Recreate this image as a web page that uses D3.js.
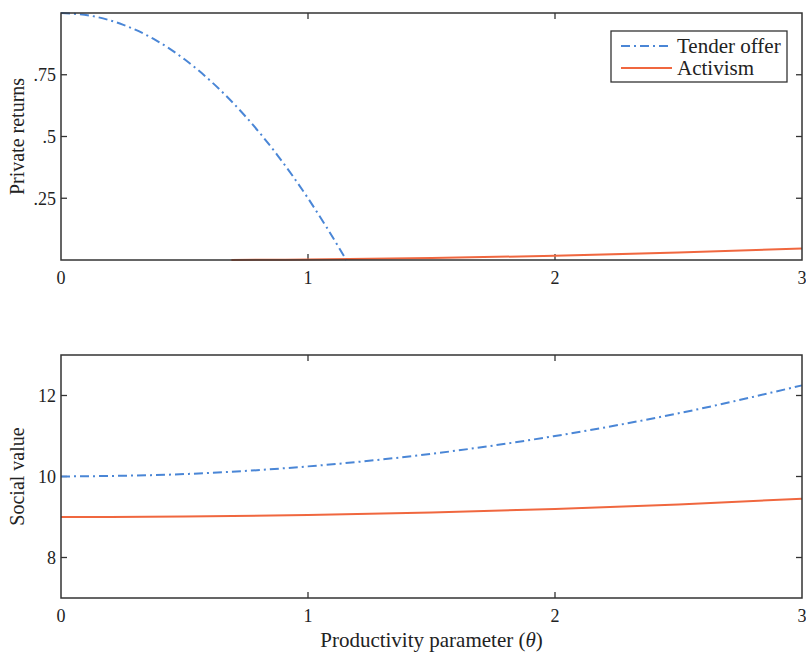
<!DOCTYPE html>
<html>
<head>
<meta charset="utf-8">
<script src="https://d3js.org/d3.v7.min.js"></script>
<style>
  body { margin: 0; background: #fff; }
  text { font-family: "Liberation Serif", "Times New Roman", serif; fill: #222; }
</style>
</head>
<body>
<svg id="chart" width="806" height="654"></svg>
<script>
  // theta grid and values
  var tenderTheta   = [0, 0.125, 0.25, 0.375, 0.5, 0.625, 0.75, 0.875, 1.0, 1.075, 1.155]
  var tenderPrivate = [1.0, 0.988, 0.953, 0.895, 0.8125, 0.707, 0.578, 0.426, 0.25, 0.133, 0]
  var activTheta    = [0.69, 1.0, 1.5, 2.0, 2.5, 3.0]
  var activPrivate  = [0, 0.002, 0.008, 0.017, 0.03, 0.047]

  var socialTheta   = [0, 0.5, 1.0, 1.5, 2.0, 2.5, 3.0]
  var tenderSocial  = [10, 10.06, 10.25, 10.56, 11.0, 11.56, 12.25]
  var activSocial   = [9, 9.01, 9.05, 9.11, 9.2, 9.31, 9.45]

  var xTicks = [0, 1, 2, 3]
  var topYTicks = [0.25, 0.5, 0.75]
  var topYLabels = ['.25', '.5', '.75']
  var botYTicks = [8, 10, 12]
  var seriesNames = ['Tender offer', 'Activism']

  var blue = '#4a86d6', orange = '#f0673f'
  var dashDot = '9,4,2,4'

  var svg = d3.select('#chart')
  var left = 61, right = 802

  var x = d3.scaleLinear().domain([0, 3]).range([left, right])
  var yTop = d3.scaleLinear().domain([0, 1]).range([260, 13])
  var yBot = d3.scaleLinear().domain([7, 13]).range([598, 355])

  function panel(y, yTicks, yLabels, yTitle) {
    var g = svg.append('g')
    var y0 = y.range()[0], y1 = y.range()[1]
    // inward ticks on all four sides
    xTicks.slice(1, 3).forEach(function(t) {
      g.append('line').attr('x1', x(t)).attr('x2', x(t)).attr('y1', y0).attr('y2', y0 - 6)
        .attr('stroke', '#333').attr('stroke-width', 1.3)
      g.append('line').attr('x1', x(t)).attr('x2', x(t)).attr('y1', y1).attr('y2', y1 + 6)
        .attr('stroke', '#333').attr('stroke-width', 1.3)
    })
    yTicks.forEach(function(t, i) {
      g.append('line').attr('x1', left).attr('x2', left + 6).attr('y1', y(t)).attr('y2', y(t))
        .attr('stroke', '#333').attr('stroke-width', 1.3)
      g.append('line').attr('x1', right).attr('x2', right - 6).attr('y1', y(t)).attr('y2', y(t))
        .attr('stroke', '#333').attr('stroke-width', 1.3)
      g.append('text').attr('x', left - 5).attr('y', y(t)).attr('dy', '0.35em')
        .attr('text-anchor', 'end').attr('font-size', 18).text(yLabels[i])
    })
    xTicks.forEach(function(t) {
      g.append('text').attr('x', x(t)).attr('y', y0 + 24)
        .attr('text-anchor', 'middle').attr('font-size', 18).text(t)
    })
    g.append('text')
      .attr('transform', 'translate(24,' + ((y0 + y1) / 2) + ') rotate(-90)')
      .attr('text-anchor', 'middle').attr('font-size', 20).text(yTitle)
    return g
  }

  function drawLine(g, y, xs, ys, color, dash) {
    var line = d3.line().x(function(d, i) { return x(xs[i]) }).y(function(d) { return y(d) })
      .curve(d3.curveMonotoneX)
    g.append('path').attr('d', line(ys)).attr('fill', 'none')
      .attr('stroke', color).attr('stroke-width', 2)
      .attr('stroke-dasharray', dash || null)
  }

  function frame(y) {
    svg.append('rect').attr('x', left).attr('y', y.range()[1])
      .attr('width', right - left).attr('height', y.range()[0] - y.range()[1])
      .attr('fill', 'none').attr('stroke', '#333').attr('stroke-width', 1.5)
  }

  // top panel
  var gTop = panel(yTop, topYTicks, topYLabels, 'Private returns')
  drawLine(gTop, yTop, activTheta, activPrivate, orange)
  drawLine(gTop, yTop, tenderTheta, tenderPrivate, blue, dashDot)
  frame(yTop)

  // legend
  var lg = svg.append('g')
  lg.append('rect').attr('x', 611).attr('y', 31).attr('width', 176).attr('height', 51)
    .attr('fill', '#fff').attr('stroke', '#333').attr('stroke-width', 1.3)
  var lgColors = [blue, orange], lgDash = [dashDot, null]
  seriesNames.forEach(function(n, i) {
    var ly = 46 + i * 22
    lg.append('line').attr('x1', 621).attr('x2', 672).attr('y1', ly).attr('y2', ly)
      .attr('stroke', lgColors[i]).attr('stroke-width', 2).attr('stroke-dasharray', lgDash[i])
    lg.append('text').attr('x', 677).attr('y', ly).attr('dy', '0.35em')
      .attr('font-size', 21).text(n)
  })

  // bottom panel
  var gBot = panel(yBot, botYTicks, botYTicks.map(String), 'Social value')
  drawLine(gBot, yBot, socialTheta, activSocial, orange)
  drawLine(gBot, yBot, socialTheta, tenderSocial, blue, dashDot)
  frame(yBot)

  svg.append('text').attr('x', (left + right) / 2).attr('y', 647)
    .attr('text-anchor', 'middle').attr('font-size', 21)
    .html('Productivity parameter (<tspan font-style="italic">θ</tspan>)')
</script>
</body>
</html>
